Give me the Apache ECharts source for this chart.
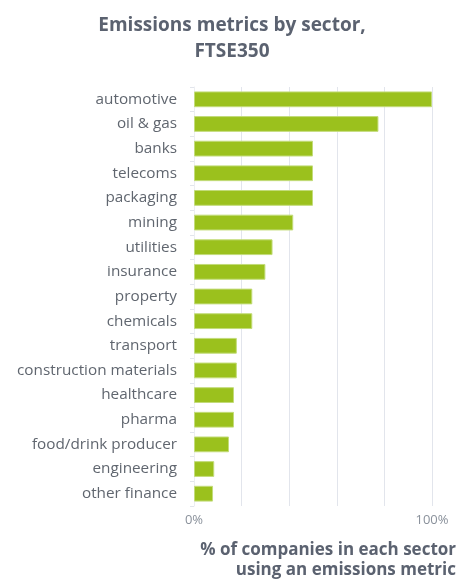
<!DOCTYPE html>
<html><head><meta charset="utf-8">
<script src="https://cdn.jsdelivr.net/npm/echarts@6/dist/echarts.min.js"></script>
<style>html,body{margin:0;padding:0;background:#fff}#c{width:462px;height:581px}</style>
</head><body><div id="c"></div>
<script>
const categories = ["automotive","oil & gas","banks","telecoms","packaging","mining","utilities","insurance","property","chemicals","transport","construction materials","healthcare","pharma","food/drink producer","engineering","other finance"];
const values = [100,77.5,50,50,50,41.7,33,30,24.5,24.5,18,18,16.8,16.8,14.7,8.5,8];
const xTickLabels = {0:"0%",100:"100%"};

const chart = echarts.init(document.getElementById('c'), null, {renderer:'canvas'});
chart.setOption({
  animation:false,
  title:{
    text:"Emissions metrics by sector,\nFTSE350",
    left:227, top:8, textAlign:'center',
    textStyle:{fontFamily:"Open Sans", fontWeight:'bold', fontSize:19, color:'#5b6270', lineHeight:26}
  },
  graphic:[{
    type:'text', x:456, y:540,
    style:{text:"% of companies in each sector\nusing an emissions metric", align:'right', verticalAlign:'top',
      font:"bold 17px 'Open Sans'", fill:'#5b6270', lineHeight:20}
  }],
  grid:{left:194, right:30, top:87, bottom:75, containLabel:false},
  xAxis:{
    type:'value', min:0, max:100, interval:20,
    axisLine:{show:false}, axisTick:{show:false},
    splitLine:{lineStyle:{color:'#e2e5ec', width:1}},
    axisLabel:{fontFamily:"Open Sans", fontSize:13, color:'#8a919b', margin:8,
      formatter:v=> xTickLabels[v] !== undefined ? xTickLabels[v] : ''}
  },
  yAxis:{
    type:'category', data:categories, inverse:true,
    axisLine:{show:true, lineStyle:{color:'#eceef2'}},
    axisTick:{show:true, length:4, lineStyle:{color:'#e2e5ec'}},
    axisLabel:{fontFamily:"Open Sans", fontSize:15.3, color:'#60666f', margin:17}
  },
  series:[{
    type:'bar', data:values, barWidth:'64%',
    itemStyle:{color:'#9bc11d', borderColor:'#c3dc7a', borderWidth:1}
  }]
});
</script></body></html>
